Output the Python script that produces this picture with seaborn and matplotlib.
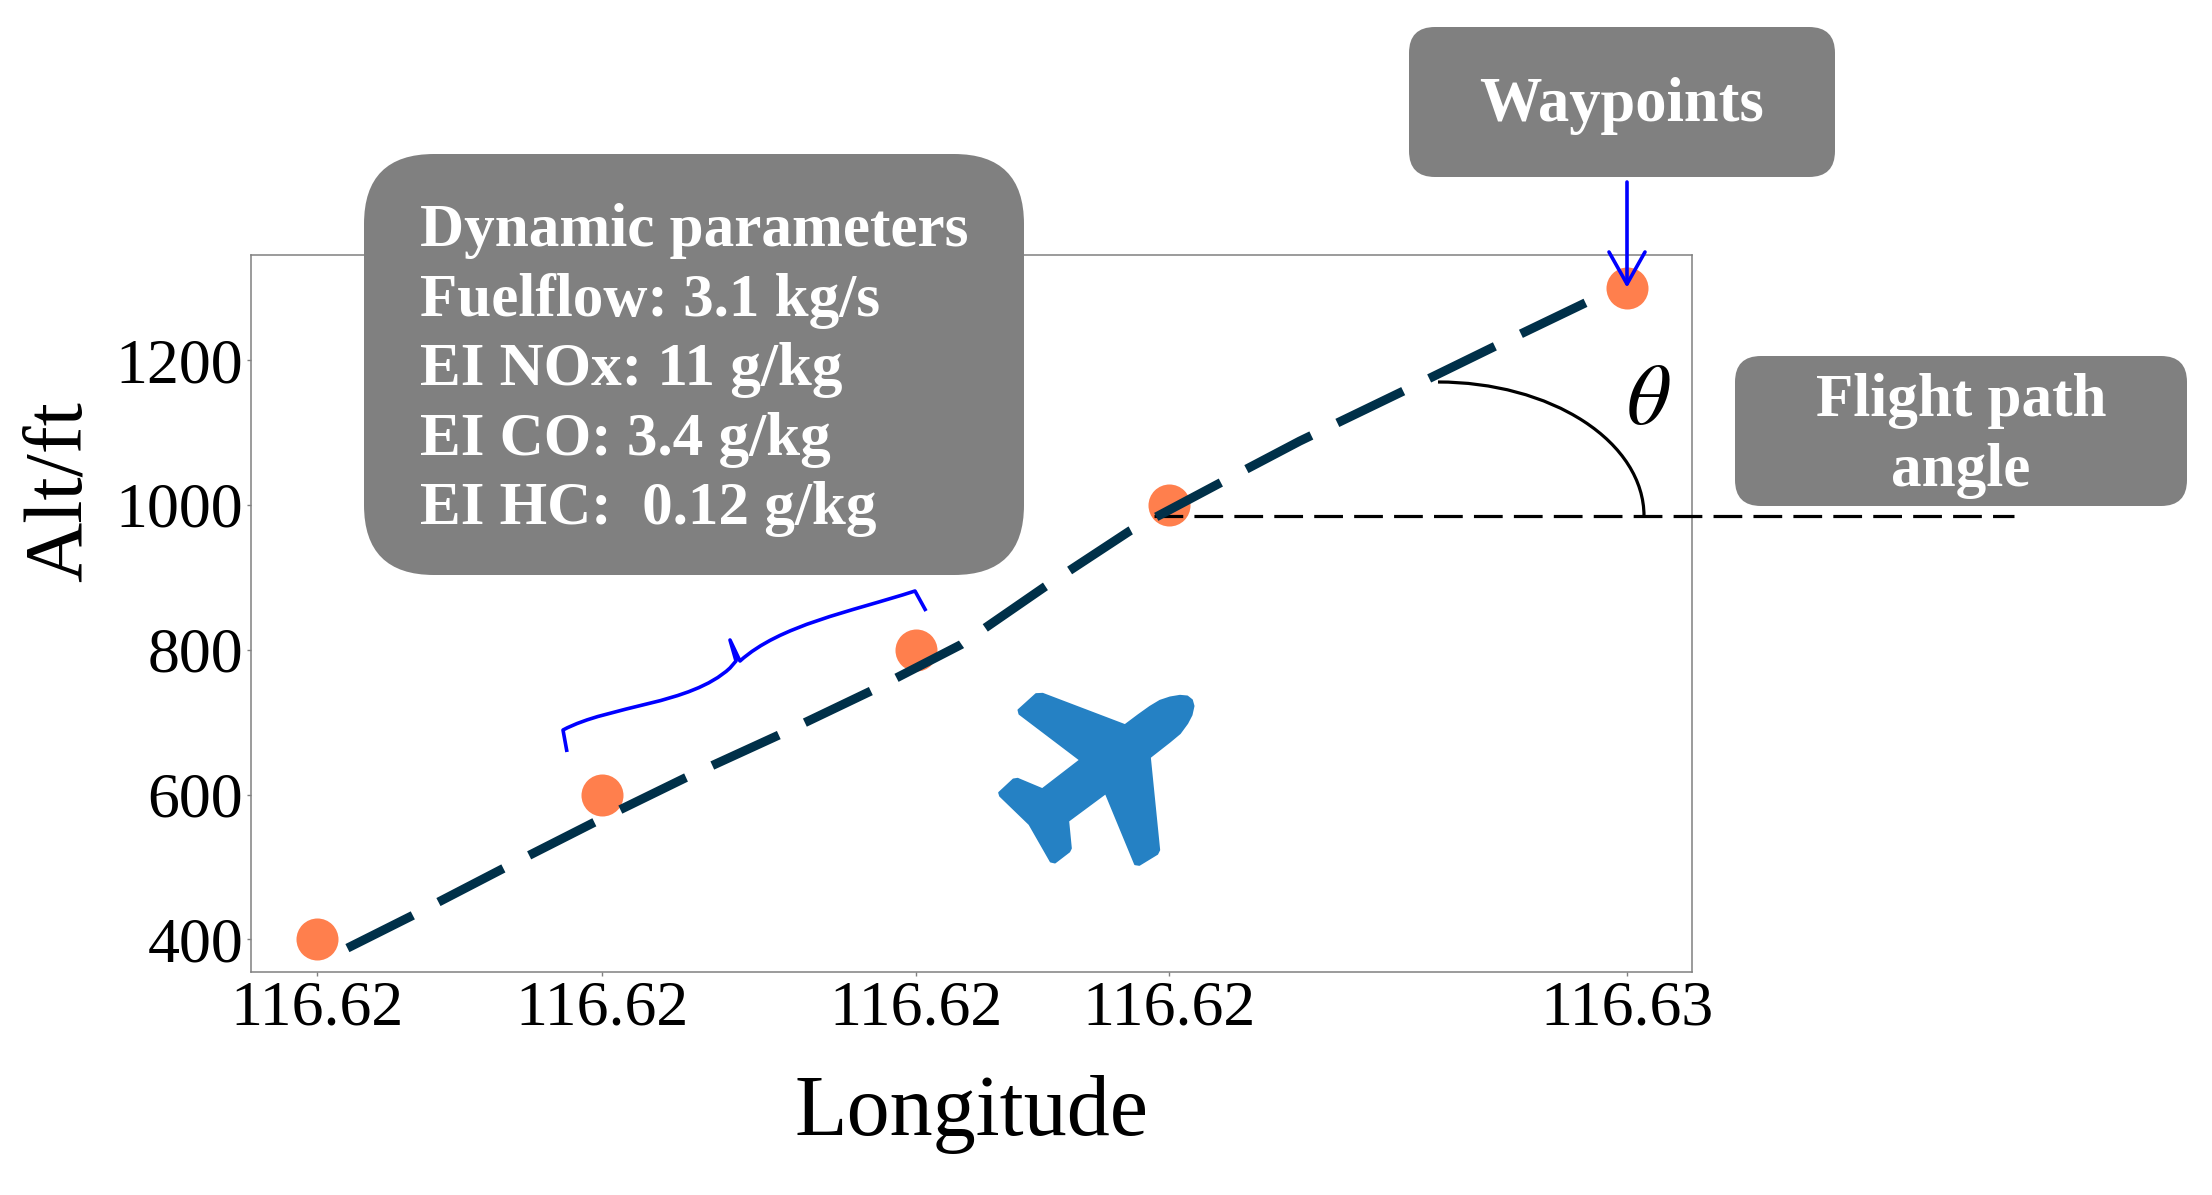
import matplotlib
matplotlib.use("Agg")
import matplotlib.pyplot as plt
import seaborn as sns
from matplotlib.path import Path
from matplotlib.patches import FancyBboxPatch, Polygon, Arc, PathPatch

# waypoints
waypoint_lon = [116.62000, 116.62133, 116.62279, 116.62397, 116.62610]
waypoint_alt = [400, 600, 800, 1000, 1300]

# flight trajectory (dashed)
path_lon = [116.620144, 116.620447, 116.620870, 116.621289, 116.621717,
            116.622159, 116.622582, 116.623001, 116.623392, 116.623787,
            116.624206, 116.624578, 116.625053, 116.625481, 116.625909]
path_alt = [388, 433, 498, 561, 623, 683, 743, 807, 887, 964, 1030, 1088, 1156, 1218, 1279]

x_tick_labels = ["116.62", "116.62", "116.62", "116.62", "116.63"]
y_ticks = [400, 600, 800, 1000, 1200]

param_lines = ["Dynamic parameters", "Fuelflow: 3.1 kg/s", "EI NOx: 11 g/kg",
               "EI CO: 3.4 g/kg", "EI HC:  0.12 g/kg"]

W, H = 2212, 1195
GREY = "#808080"
BLUE = "#0000FF"
FONT = "Liberation Serif"

sns.set_style("white")
plt.rcParams["font.family"] = [FONT, "DejaVu Serif"]
plt.rcParams["mathtext.fontset"] = "stix"
plt.rcParams["text.color"] = "black"
plt.rcParams["axes.labelcolor"] = "black"
plt.rcParams["xtick.labelcolor"] = "black"
plt.rcParams["ytick.labelcolor"] = "black"

fig = plt.figure(figsize=(W / 100, H / 100), dpi=100)
ax = fig.add_axes([251 / W, 1 - 972 / H, (1692 - 251) / W, (972 - 255) / H])

# overlay in image pixels for the annotations
ov = fig.add_axes([0, 0, 1, 1], zorder=5)
ov.set_xlim(0, W)
ov.set_ylim(H, 0)
ov.axis("off")

sns.scatterplot(x=waypoint_lon, y=waypoint_alt, s=915, color="#FF7F4D", linewidth=0, ax=ax, zorder=2)
sns.lineplot(x=path_lon, y=path_alt, color="#003049", linewidth=6.5, linestyle=(0, (8.1, 3.2)),
             errorbar=None, ax=ax, zorder=4)
# horizontal reference, sits under the trajectory
ax.plot([1154, 2014], [516, 516], color="black", lw=2.3, linestyle=(0, (9, 3.5)),
        transform=ov.transData, clip_on=False, zorder=3)

ax.set_xlim(116.62 - 0.0061 * 0.05, 116.6261 + 0.0061 * 0.05)
ax.set_ylim(355, 1345)
ax.set_xticks(waypoint_lon, x_tick_labels)
ax.set_yticks(y_ticks)
ax.tick_params(axis="both", labelsize=46, length=3, width=1, color=GREY, left=True, bottom=True)
ax.tick_params(axis="x", pad=3)
ax.tick_params(axis="y", pad=2.5)
ax.set_xlabel("Longitude", fontsize=62, labelpad=26)
ax.set_ylabel("Alt/ft", fontsize=60, y=0.67, labelpad=12)
for s in ax.spines.values():
    s.set_color(GREY)
    s.set_linewidth(1.1)


def box(x0, y0, x1, y1, r):
    ov.add_patch(FancyBboxPatch((x0 + r, y0 + r), x1 - x0 - 2 * r, y1 - y0 - 2 * r,
                                boxstyle=f"round,pad={r},rounding_size={r}",
                                fc=GREY, ec="none"))


box(364, 154, 1024, 575, 70)
box(1409, 27, 1835, 177, 26)
box(1735, 356, 2187, 506, 26)

baselines = [246, 316, 385, 455, 524]
for line, yy in zip(param_lines, baselines):
    ov.text(420, yy, line, color="white", fontsize=44, fontweight="bold", va="baseline", ha="left")
ov.text(1622, 121, "Waypoints", color="white", fontsize=45, fontweight="bold", va="baseline", ha="center")
ov.text(1961, 416, "Flight path", color="white", fontsize=44, fontweight="bold", va="baseline", ha="center")
ov.text(1961, 486, "angle", color="white", fontsize=44, fontweight="bold", va="baseline", ha="center")

# arrow to the last waypoint
ov.plot([1627, 1627], [182, 284], color=BLUE, lw=2.6)
ov.plot([1609, 1627, 1645], [252, 284, 252], color=BLUE, lw=2.6)

# brace between waypoints
brace_verts = [(567, 752), (563, 730),
               (610, 705), (690, 705), (730, 668),
               (736, 661), (730, 640), (740, 661),
               (780, 625), (850, 612), (915, 591),
               (926, 611)]
brace_codes = [Path.MOVETO, Path.LINETO,
               Path.CURVE4, Path.CURVE4, Path.CURVE4,
               Path.LINETO, Path.LINETO, Path.LINETO,
               Path.CURVE4, Path.CURVE4, Path.CURVE4,
               Path.LINETO]
ov.add_patch(PathPatch(Path(brace_verts, brace_codes), fc="none", ec=BLUE, lw=2.6, joinstyle="round"))

# flight path angle
ov.add_patch(Arc((1438, 516), 412, 268, theta1=270, theta2=360, color="black", lw=2.3))
ov.text(1648, 403, r"$\theta$", fontsize=62, color="black", ha="center", va="center")

# plane icon, traced outline
plane = [(258, 132), (278, 131), (525, 225), (565, 195), (600, 170), (630, 152), (660, 142),
         (690, 137), (712, 139), (726, 150), (731, 168), (725, 195), (712, 220), (690, 250),
         (660, 275), (600, 322), (628, 600), (622, 612), (568, 645), (555, 643), (467, 430),
         (355, 513), (363, 595), (358, 605), (315, 638), (302, 635), (238, 523), (150, 438),
         (147, 428), (190, 388), (203, 386), (277, 417), (390, 330), (208, 192), (205, 180)]
ov.add_patch(Polygon([(950 + a / 3, 650 + b / 3) for a, b in plane], closed=True,
                     fc="#2581C4", ec="#2581C4", lw=1.2, joinstyle="round"))

fig.savefig("out.png", dpi=100)
